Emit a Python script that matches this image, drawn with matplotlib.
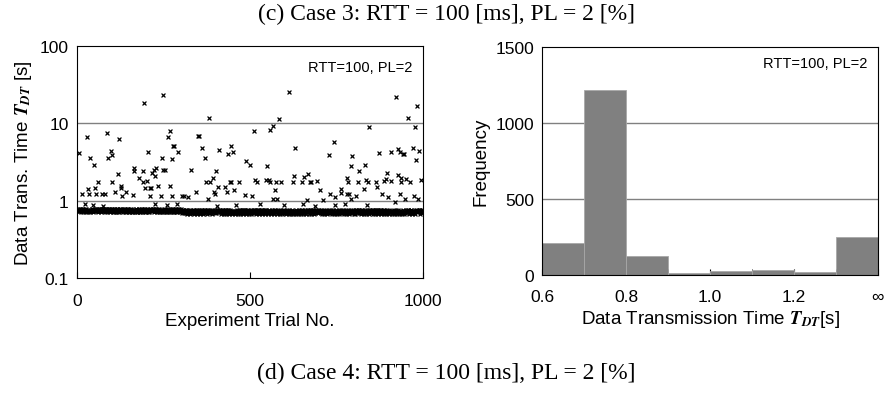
import numpy as np
import matplotlib
matplotlib.use("Agg")
import matplotlib.pyplot as plt
from matplotlib.ticker import FixedLocator, NullLocator

# ---- left panel: trial-by-trial data transmission time ----
# baseline trials, one digit per trial: T = 0.68 + 0.012 * digit [s]
base_rows = [
    "5847365948 7364859276 4857396485 7264958374 6958473625 8473659487 3659847265 9487365948 7265948376 5948736594",
    "8473659284 7365948275 6384957264 8573946285 7364958472 6395847362 5948372659 4837265948 3726594837 2659483726",
    "6495837264 9583726495 8372649583 7264958372 6495837264 5938472659 3847265938 4726593847 2659384726 5938472659",
    "4615263714 2536170425 3614275031 6425137064 2513674025 1736402516 3742051637 4215063742 5106374215 0637425160",
    "3517264035 1726403517 2640351726 4035172640 3517264035 2641730526 4173052641 7305264173 0526417305 2641730526",
    "2406153724 0615372406 1537240615 3724061537 2406153724 5130624751 3062475130 6247513062 4751306247 5130624751",
    "1425036142 5036142503 6142503614 2503614250 3614250361 4720531647 2053164720 5316472053 1647205316 4720531647",
    "3052416305 2416305241 6305241630 5241630524 1630524163 0425136042 5136042513 6042513604 2513604251 3604251360",
    "2514063725 1406372514 0637251406 3725140637 2514063725 4173062514 7306251473 0625147306 2514730625 1473062514",
    "1630425163 0425163042 5163042516 3042516304 2516304251 6304257163 0425716304 2571630425 7163042571 6304257163",
]

# slow trials
slow_trial = [193, 248, 383, 613, 585, 924, 985, 958, 530, 566, 979, 844,
              5, 14, 29, 37, 35, 33, 49, 53, 62, 54, 72, 81, 86, 90, 97, 102, 100, 111,
              119, 121, 126, 128, 130, 143, 162, 165, 164, 180, 190, 191, 198, 202, 205,
              210, 214, 216, 212, 222, 226, 230, 233, 245, 243, 250, 256, 263, 268, 269,
              275, 274, 279, 282, 293, 304, 310, 321, 331, 344, 349, 354, 363, 369, 373,
              386, 379, 394, 395, 400, 402, 405, 408, 411, 429, 434, 437, 442, 445, 446,
              452, 455, 470, 485, 490, 500, 507, 511, 514, 522, 551, 546, 556, 558, 559,
              567, 572, 576, 579, 590, 625, 630, 628, 650, 658, 665, 669, 673, 677, 694,
              702, 711, 730, 731, 743, 747, 763, 765, 775, 780, 784, 781, 788, 794, 796,
              793, 807, 813, 815, 830, 833, 836, 843, 866, 868, 874, 881, 889, 893, 898,
              899, 908, 909, 928, 929, 934, 935, 937, 938, 942, 947, 949, 953, 963, 973,
              975, 982, 990, 988, 994,
              23, 45, 75, 225, 260, 290, 405, 460, 530, 600, 655, 690, 745, 775, 840, 920]
slow_time = [18, 23, 11.6, 25, 11.4, 22, 16.7, 11.7, 10, 9.2, 8.9, 9.0,
             4.1, 1.2, 6.7, 3.6, 1.2, 1.4, 2.85, 1.44, 1.72, 1.2, 1.23, 1.23, 7.4, 3.5, 4.4, 3.9, 1.76, 1.3,
             2.2, 6.2, 1.53, 1.44, 1.16, 1.28, 1.18, 2.65, 2.4, 1.96, 2.4, 1.74, 1.44, 1.77, 4.2,
             1.44, 1.45, 2.25, 1.16, 2.5, 2.06, 2.65, 1.54, 3.6, 1.16, 2.45, 2.45, 6.7, 7.9, 1.53,
             3.4, 1.16, 5.1, 5.1, 4.3, 1.16, 1.13, 1.12, 2.5, 1.3, 6.9, 6.9, 4.8, 3.5, 1.72,
             1.72, 1.05, 1.94, 1.28, 1.2, 2.43, 1.76, 1.5, 4.5, 1.5, 1.28, 4.0, 1.72, 5.0, 1.72,
             4.3, 1.38, 1.72, 1.17, 3.2, 2.9, 1.16, 7.9, 1.83, 1.72, 2.8, 1.86, 1.83, 8.2, 1.72,
             1.05, 1.38, 1.72, 1.05, 1.72, 1.72, 4.85, 2.1, 1.72, 2.04, 1.02, 2.18, 1.72, 1.72, 1.81,
             1.38, 1.03, 3.9, 1.23, 5.8, 1.1, 1.41, 1.24, 2.18, 1.98, 1.72, 1.22, 1.22, 2.8, 3.8,
             1.04, 1.16, 1.72, 2.43, 1.41, 2.9, 1.83, 1.72, 1.72, 1.51, 4.06, 1.23, 1.79, 1.88, 2.3,
             1.1, 4.3, 1.78, 2.14, 4.7, 4.3, 1.23, 1.98, 1.76, 4.0, 4.0, 1.05, 1.92, 1.72, 4.8,
             1.13, 3.3, 4.4, 1.05, 1.83,
             0.9, 0.88, 0.86, 0.9, 0.88, 0.9, 0.86, 0.87, 0.9, 0.87, 0.9, 0.86, 0.88, 0.9, 0.88, 0.95]

# ---- right panel: histogram ----
bin_left = [0.6, 0.7, 0.8, 0.9, 1.0, 1.1, 1.2, 1.3]
frequency = [210, 1221, 124, 8, 22, 30, 18, 251]
hist_ticks = [0.6, 0.8, 1.0, 1.2, 1.4]
hist_labels = ["0.6", "0.8", "1.0", "1.2", "\u221e"]

digits = "".join(base_rows).replace(" ", "")
base_time = 0.68 + 0.012 * np.array([int(c) for c in digits])
trial = np.arange(1, len(base_time) + 1)
trans_time = base_time.copy()
for t, v in zip(slow_trial, slow_time):
    if t <= len(trans_time):
        trans_time[t - 1] = v

plt.rcParams["font.family"] = ["Liberation Sans", "DejaVu Sans"]
plt.rcParams["mathtext.fontset"] = "stix"

fig = plt.figure(figsize=(8.84, 4.02), dpi=100)

ax1 = fig.add_axes([0.0871, 0.306, 0.391, 0.5776])
ax1.scatter(trial, trans_time, marker="x", s=8, c="black", linewidths=0.9, zorder=3)
ax1.set_yscale("log")
ax1.set_ylim(0.1, 100)
ax1.set_xlim(0, 1000)
ax1.yaxis.set_major_locator(FixedLocator([0.1, 1, 10, 100]))
ax1.yaxis.set_minor_locator(NullLocator())
ax1.set_yticklabels(["0.1", "1", "10", "100"])
ax1.set_xticks([0, 500, 1000])
for yv in [1, 10]:
    ax1.axhline(yv, color="#808080", lw=1, zorder=1)
ax1.tick_params(axis="x", direction="in", length=4, labelsize=12.5, pad=11)
ax1.tick_params(axis="y", length=0, labelsize=12.5, pad=6)
ax1.set_xlabel("Experiment Trial No.", fontsize=13.5, labelpad=3)
ax1.set_ylabel(r"Data Trans. Time $\mathbfit{T}_{\mathbfit{DT}}$ [s]", fontsize=13.5, labelpad=4)
ax1.text(0.97, 0.94, "RTT=100, PL=2", transform=ax1.transAxes, ha="right", va="top", fontsize=10.5)

ax2 = fig.add_axes([0.6135, 0.3142, 0.3794, 0.5657])
ax2.bar(bin_left, frequency, width=0.1, align="edge", color="#808080",
        edgecolor="#a8a8a8", linewidth=0.6, zorder=2)
ax2.set_xlim(0.6, 1.4)
ax2.set_ylim(0, 1500)
ax2.set_yticks([0, 500, 1000, 1500])
for yv in [500, 1000]:
    ax2.axhline(yv, color="#808080", lw=1, zorder=1)
ax2.set_xticks(hist_ticks)
ax2.set_xticklabels(hist_labels)
ax2.set_xticks(bin_left + [1.4], minor=True)
ax2.tick_params(axis="x", which="both", direction="in", length=4, labelsize=12.5, pad=10)
ax2.tick_params(axis="y", length=0, labelsize=12.5, pad=6)
ax2.set_xlabel(r"Data Transmission Time $\mathbfit{T}_{\mathbfit{DT}}$[s]", fontsize=13.5, labelpad=3)
ax2.set_ylabel("Frequency", fontsize=13.5, labelpad=4)
ax2.text(0.97, 0.96, "RTT=100, PL=2", transform=ax2.transAxes, ha="right", va="top", fontsize=10.5)

fig.text(0.505, 0.965, "(c) Case 3: RTT = 100 [ms], PL = 2 [%]", ha="center", va="center",
         fontsize=17, family="Liberation Serif")
fig.text(0.505, 0.07, "(d) Case 4: RTT = 100 [ms], PL = 2 [%]", ha="center", va="center",
         fontsize=17, family="Liberation Serif")

fig.savefig("out.png", dpi=100)
